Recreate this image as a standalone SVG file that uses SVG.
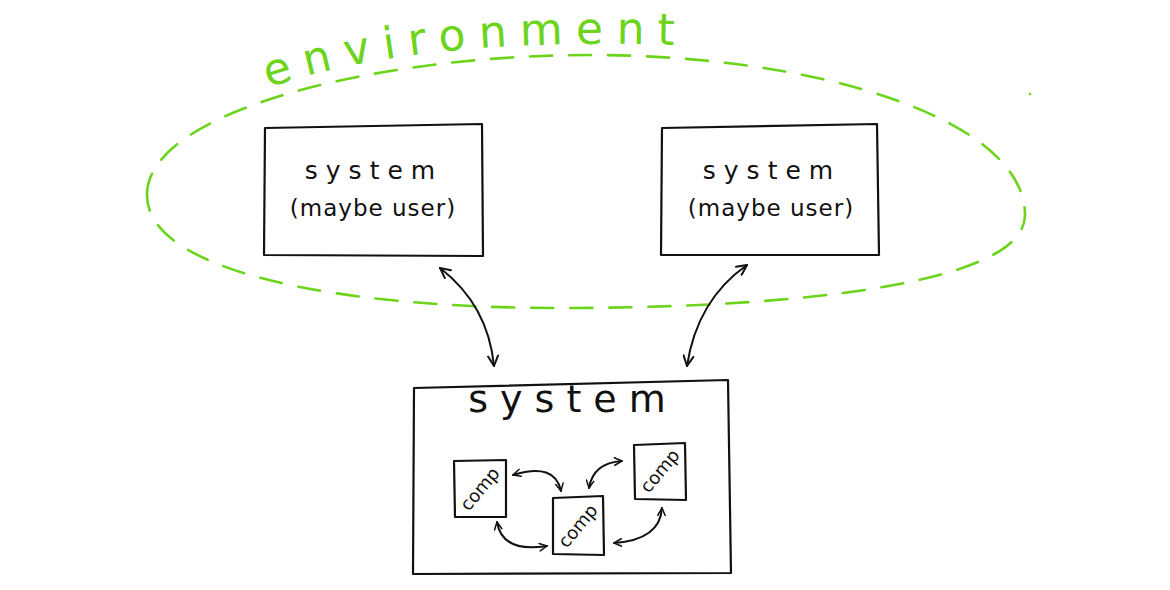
<svg xmlns="http://www.w3.org/2000/svg" width="1170" height="590" viewBox="0 0 1170 590">
<defs>
<style>
.box{fill:none;stroke:#111;stroke-width:2.2;stroke-linejoin:round;stroke-linecap:round}
.conn{fill:none;stroke:#111;stroke-width:2;stroke-linecap:round}
.t{font-family:"DejaVu Sans","Liberation Sans",sans-serif;fill:#111;text-anchor:middle}
.env{fill:none;stroke:#6bd41b;stroke-width:2.6;stroke-dasharray:22 17;stroke-linecap:round}
</style>
<path id="envpath" d="M265,89 Q420,34 700,46" fill="none"/>
<marker id="ah" viewBox="0 0 12 12" refX="11" refY="6" markerWidth="12" markerHeight="12" markerUnits="userSpaceOnUse" orient="auto-start-reverse">
<path d="M1,1 L11,6 L1,11" fill="none" stroke="#111" stroke-width="2" stroke-linecap="round" stroke-linejoin="round"/>
</marker>
<marker id="ahs" viewBox="0 0 12 12" refX="11" refY="6" markerWidth="9" markerHeight="9" markerUnits="userSpaceOnUse" orient="auto-start-reverse">
<path d="M1,1 L11,6 L1,11" fill="none" stroke="#111" stroke-width="2" stroke-linecap="round" stroke-linejoin="round"/>
</marker>
</defs>
<rect width="1170" height="590" fill="#fff"/>

<g id="environment">
<path class="env" d="M147,195 C147,110 380,55 590,55 C820,55 1025,120 1025,215 C1025,285 790,308 560,308 C330,308 147,270 147,195 Z"/>
<circle cx="1030" cy="94" r="1.3" fill="#6bd41b"/>
<text font-family="'DejaVu Sans','Liberation Sans',sans-serif" font-size="44" letter-spacing="13" fill="#6bd41b"><textPath href="#envpath" startOffset="4">environment</textPath></text>
</g>

<g id="sys-left">
<path class="box" d="M265,128 L482,124 L483,256 L264,255 Z"/>
<text class="t" x="374" y="179" font-size="25" letter-spacing="8">system</text>
<text class="t" x="373" y="216" font-size="23" letter-spacing="1">(maybe user)</text>
</g>

<g id="sys-right">
<path class="box" d="M662,128 L877,124 L879,255 L661,255 Z"/>
<text class="t" x="772" y="179" font-size="25" letter-spacing="8">system</text>
<text class="t" x="771" y="216" font-size="23" letter-spacing="1">(maybe user)</text>
</g>

<g id="sys-main">
<path class="box" d="M414,388 L728,380 L731,573 L413,574 Z"/>
<text class="t" x="573" y="412" font-size="38" letter-spacing="12">system</text>
</g>

<g id="comp1">
<path class="box" d="M454,461 L506,460 L506,517 L455,517 Z"/>
<text class="t" x="480" y="495" font-size="18" transform="rotate(-50 480 489)">comp</text>
</g>
<g id="comp2">
<path class="box" d="M553,498 L603,496 L604,555 L553,554 Z"/>
<text class="t" x="578" y="532" font-size="18" transform="rotate(-50 578 526)">comp</text>
</g>
<g id="comp3">
<path class="box" d="M634,445 L685,443 L686,500 L635,499 Z"/>
<text class="t" x="660" y="477" font-size="18" transform="rotate(-50 660 471)">comp</text>
</g>

<g id="connectors">
<path class="conn" d="M440,268 Q488,305 494,366" marker-start="url(#ah)" marker-end="url(#ah)"/>
<path class="conn" d="M747,265 Q697,300 687,366" marker-start="url(#ah)" marker-end="url(#ah)"/>
<path class="conn" d="M513,475 Q555,462 561,491" marker-start="url(#ahs)" marker-end="url(#ahs)"/>
<path class="conn" d="M589,488 Q593,463 622,461" marker-start="url(#ahs)" marker-end="url(#ahs)"/>
<path class="conn" d="M497,522 Q502,553 547,546" marker-start="url(#ahs)" marker-end="url(#ahs)"/>
<path class="conn" d="M614,543 Q660,540 662,508" marker-start="url(#ahs)" marker-end="url(#ahs)"/>
</g>
</svg>
